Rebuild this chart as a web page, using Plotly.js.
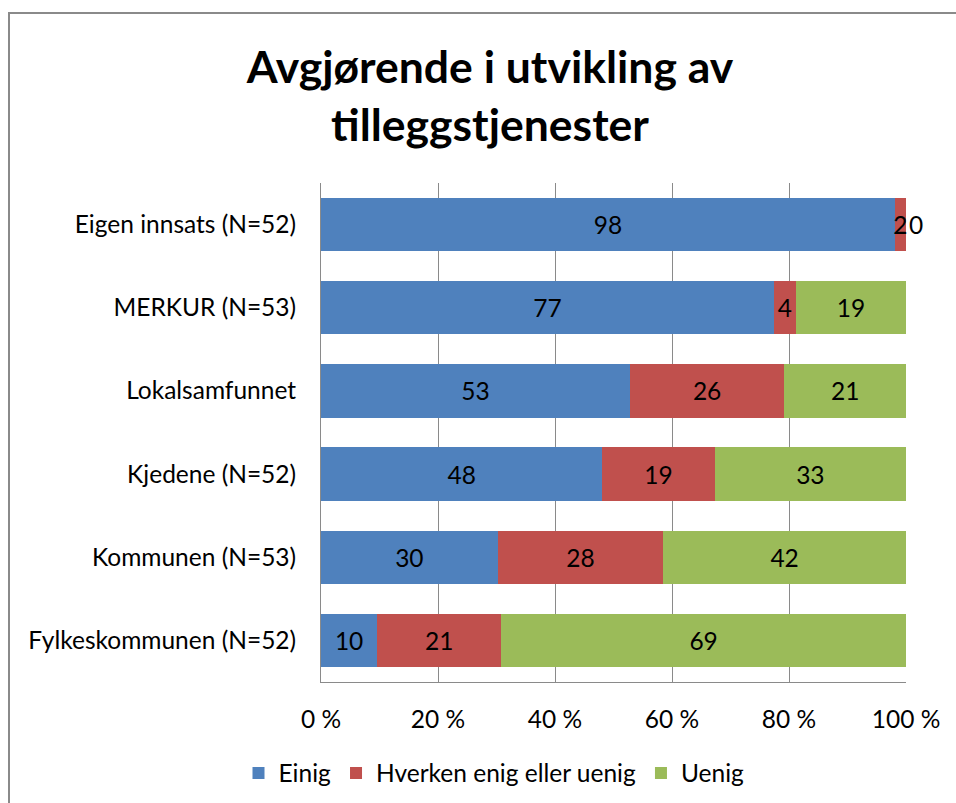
<!DOCTYPE html>
<html>
<head>
<meta charset="utf-8">
<script src="https://cdn.plot.ly/plotly-3.0.1.min.js"></script>
<style>
  html, body { margin: 0; padding: 0; background: #fff; }
  #wrap { position: relative; width: 956px; height: 803px; overflow: hidden; }
  #chart { width: 956px; height: 803px; }
  #frame { position: absolute; left: 8px; top: 12px; width: 980px; height: 820px;
           border: 2px solid #8a8a8a; box-sizing: border-box; pointer-events: none; }
</style>
</head>
<body>
<div id="wrap">
  <div id="chart"></div>
  <div id="frame"></div>
</div>
<script>
// Categories (top to bottom as shown)
const categories = [
  "Eigen innsats (N=52)",
  "MERKUR (N=53)",
  "Lokalsamfunnet",
  "Kjedene (N=52)",
  "Kommunen (N=53)",
  "Fylkeskommunen (N=52)"
];
// Series values (percent)
const einig   = [98.1, 77.4, 52.8, 48.1, 30.2, 9.6];
const hverken = [1.9, 3.8, 26.4, 19.2, 28.3, 21.2];
const uenig   = [0.0, 18.8, 20.8, 32.7, 41.5, 69.2];
const seriesNames = ["Einig", "Hverken enig eller uenig", "Uenig"];
const tickValues = [0, 20, 40, 60, 80, 100];
const tickLabels = ["0 %", "20 %", "40 %", "60 %", "80 %", "100 %"];

const colors = ["#4F81BD", "#C0504D", "#9BBB59"];
const FONT = "Lato, 'Open Sans', sans-serif";
const FS = 24.5;

function mk(vals, name, color) {
  return {
    type: "bar",
    orientation: "h",
    y: categories,
    x: vals,
    name: name,
    marker: { color: color },
    text: vals.map(v => Math.round(v).toString()),
    texttemplate: "%{text}",
    textposition: vals.map(v => (v === 0 ? "outside" : "inside")),
    insidetextanchor: "middle",
    constraintext: "none",
    textfont: { family: FONT, size: FS, color: "#000" },
    insidetextfont: { family: FONT, size: FS, color: "#000" },
    outsidetextfont: { family: FONT, size: FS, color: "#000" },
    hoverinfo: "x+y+name",
    cliponaxis: false
  };
}

const data = [
  mk(einig, seriesNames[0], colors[0]),
  mk(hverken, seriesNames[1], colors[1]),
  mk(uenig, seriesNames[2], colors[2])
];

const layout = {
  width: 956,
  height: 803,
  barmode: "stack",
  bargap: 0.36,
  paper_bgcolor: "#fff",
  plot_bgcolor: "#fff",
  font: { family: FONT, size: FS, color: "#000" },
  margin: { l: 321, r: 50, t: 183, b: 121 },
  title: {
    text: "<b>Avgjørende i utvikling av<br>tilleggstjenester</b>",
    font: { family: FONT, size: 44.5, color: "#000" },
    xref: "container", x: 490 / 956, xanchor: "center",
    yref: "container", y: 1 - 83 / 803, yanchor: "middle"
  },
  xaxis: {
    range: [0, 100],
    tickvals: tickValues,
    ticktext: tickLabels,
    showgrid: true,
    gridcolor: "#8a8a8a",
    gridwidth: 1,
    showline: true,
    linecolor: "#8a8a8a",
    linewidth: 1,
    zeroline: false,
    ticks: "",
    ticklabelstandoff: 16,
    tickfont: { family: FONT, size: FS, color: "#000" },
    fixedrange: true
  },
  yaxis: {
    type: "category",
    autorange: "reversed",
    showgrid: false,
    showline: true,
    linecolor: "#8a8a8a",
    linewidth: 1,
    zeroline: false,
    ticks: "",
    ticklabelstandoff: 19,
    tickfont: { family: FONT, size: FS, color: "#000" },
    fixedrange: true
  },
  showlegend: true,
  legend: {
    orientation: "h",
    xref: "container", x: 494 / 956, xanchor: "center",
    yref: "container", y: 30 / 803, yanchor: "middle",
    font: { family: FONT, size: FS, color: "#000" },
    traceorder: "normal",
    itemwidth: 30
  }
};

Plotly.newPlot("chart", data, layout, { displayModeBar: false, staticPlot: true });
</script>
</body>
</html>
